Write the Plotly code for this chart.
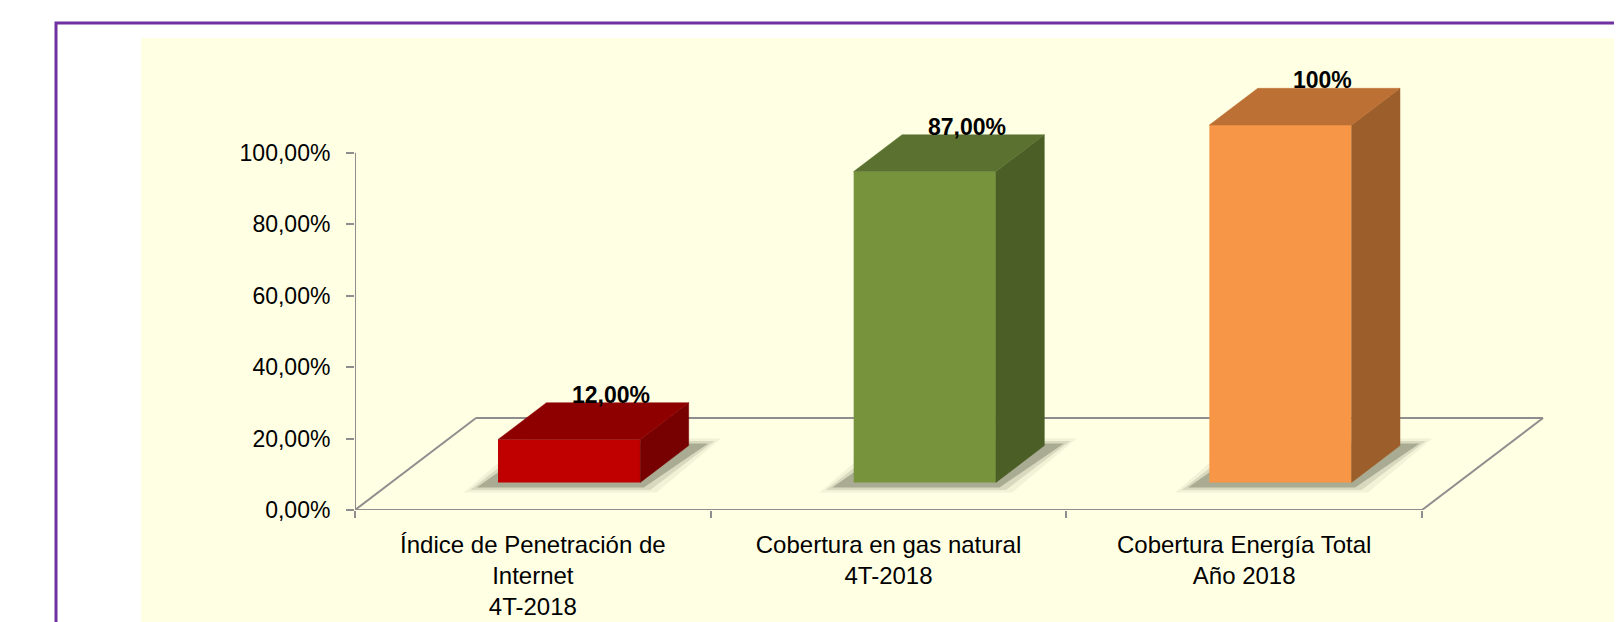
import plotly.graph_objects as go

# ---------------- data ----------------
categories = [
    "Índice de Penetración de<br>Internet<br>4T-2018",
    "Cobertura en gas natural<br>4T-2018",
    "Cobertura Energía Total<br>Año 2018",
]
values = [12.0, 87.0, 100.0]
value_labels = ["12,00%", "87,00%", "100%"]
ytick_vals = [0, 20, 40, 60, 80, 100]
ytick_text = ["0,00%", "20,00%", "40,00%", "60,00%", "80,00%", "100,00%"]

front_colors = ["#C00000", "#77933C", "#F79646"]
top_colors = ["#8E0000", "#5B7130", "#BC7034"]
side_colors = ["#770000", "#4B5E26", "#9C5E2B"]

# ---------------- geometry ----------------
OFF = 8                      # page body margin
W, H = 1622 - OFF, 622 - OFF
ML, MR, MT, MB = 355 - OFF, 62, 40 - OFF, 112
PW, PH = W - ML - MR, H - MT - MB
PXU = 355.67          # pixels per category
PXP = 3.573           # pixels per percent
XMAX = PW / PXU
YMAX = PH / PXP
FDX = 121 / PXU       # floor depth offset (x units)
FDY = 92 / PXP        # floor depth offset (y units)
D0, D1 = 0.3, 0.7     # bar depth span
BW = 0.4              # bar width (category fraction)
n = len(categories)

bdx = (D1 - D0) * FDX
bdy = (D1 - D0) * FDY
base = D0 * FDY

fig = go.Figure()

xc = [i + 0.5 + D0 * FDX for i in range(n)]

# front faces
fig.add_trace(go.Bar(
    x=xc, y=values, base=[base] * n, width=BW,
    marker=dict(color=front_colors, line=dict(width=0)),
    hoverinfo="skip", showlegend=False,
))

shapes = []
gray = "#8E8E8E"

def to_px(px, py):
    # page pixel -> paper coords
    return (px - OFF - ML) / PW, (H - MB - (py - OFF)) / PH

# background and frame (paper)
yx0, yy1 = to_px(141, 38)
shapes.append(dict(type="rect", xref="paper", yref="paper", x0=yx0, x1=1.2, y0=-0.4, y1=yy1,
                   fillcolor="#FFFFE4", line=dict(width=0), layer="below"))
px0, py1 = to_px(56, 23)
shapes.append(dict(type="rect", xref="paper", yref="paper", x0=px0, x1=1.2, y0=-0.4, y1=py1,
                   fillcolor="rgba(0,0,0,0)", line=dict(color="#7030A0", width=3), layer="below"))

# floor
for (x0, y0, x1, y1) in [(0, 0, n, 0), (FDX, FDY, n + FDX, FDY), (0, 0, FDX, FDY), (n, 0, n + FDX, FDY)]:
    shapes.append(dict(type="line", xref="x", yref="y", x0=x0, y0=y0, x1=x1, y1=y1,
                       line=dict(color=gray, width=2), layer="below"))
# y axis line
shapes.append(dict(type="line", xref="x", yref="y", x0=0, y0=0, x1=0, y1=ytick_vals[-1],
                   line=dict(color=gray, width=2), layer="below"))

# shadows
for i in range(n):
    xL, xR = xc[i] - BW / 2, xc[i] + BW / 2
    for k, a in [(2.0, 0.08), (1.0, 0.16), (0.0, 0.36)]:
        ex = 0.018 * k
        ey = 0.7 * k
        pts = [(xL - 0.06 - ex, base - 1.4 - ey), (xR + 0.01 + ex, base - 1.4 - ey),
               (xR + bdx + 0.055 + ex, base + bdy + 0.6 + ey), (xL + bdx - 0.02 - ex, base + bdy + 0.6 + ey)]
        path = "M " + " L ".join(f"{p[0]},{p[1]}" for p in pts) + " Z"
        shapes.append(dict(type="path", xref="x", yref="y", path=path,
                           fillcolor=f"rgba(85,90,70,{a})", line=dict(width=0), layer="below"))

# side and top faces
for i in range(n):
    v = values[i]
    xL, xR = xc[i] - BW / 2, xc[i] + BW / 2
    top = base + v
    sx = [xR, xR, xR + bdx, xR + bdx, xR]
    sy = [base, top, top + bdy, base + bdy, base]
    fig.add_trace(go.Scatter(x=sx, y=sy, fill="toself", mode="lines",
                             fillcolor=side_colors[i], line=dict(color=side_colors[i], width=0.5),
                             hoverinfo="skip", showlegend=False))
    tx = [xL, xR, xR + bdx, xL + bdx, xL]
    ty = [top, top, top + bdy, top + bdy, top]
    fig.add_trace(go.Scatter(x=tx, y=ty, fill="toself", mode="lines",
                             fillcolor=top_colors[i], line=dict(color=top_colors[i], width=0.5),
                             hoverinfo="skip", showlegend=False))

annotations = []
for i in range(n):
    annotations.append(dict(
        x=xc[i] + 0.87 * bdx, y=base + values[i] + bdy, xref="x", yref="y",
        text=f"<b>{value_labels[i]}</b>", showarrow=False, yanchor="middle", yshift=8,
        font=dict(family="Liberation Sans, Arial, sans-serif", size=23, color="#000000"),
    ))

fig.update_layout(
    width=W, height=H,
    margin=dict(l=ML, r=MR, t=MT, b=MB, pad=0, autoexpand=False),
    paper_bgcolor="#FFFFFF",
    plot_bgcolor="rgba(0,0,0,0)",
    font=dict(family="Liberation Sans, Arial, sans-serif", size=23, color="#000000"),
    shapes=shapes,
    annotations=annotations,
    showlegend=False,
    xaxis=dict(
        range=[0, XMAX], showgrid=False, zeroline=False, showline=False, automargin=False,
        tickmode="array", tickvals=[i + 0.5 for i in range(n)], ticktext=categories,
        ticks="", ticklabelstandoff=18,
        tickfont=dict(size=24, color="#000000"),
        minor=dict(tickmode="array", tickvals=list(range(n + 1)), ticks="outside",
                   ticklen=7, tickwidth=2, tickcolor=gray, showgrid=False),
        fixedrange=True,
    ),
    yaxis=dict(
        range=[0, YMAX], showgrid=False, zeroline=False, showline=False, automargin=False,
        tickmode="array", tickvals=ytick_vals, ticktext=ytick_text,
        ticks="outside", ticklen=8, tickwidth=2, tickcolor=gray,
        ticklabelstandoff=11,
        tickfont=dict(size=23, color="#000000"),
        fixedrange=True,
    ),
)

fig.write_html("out.html")
